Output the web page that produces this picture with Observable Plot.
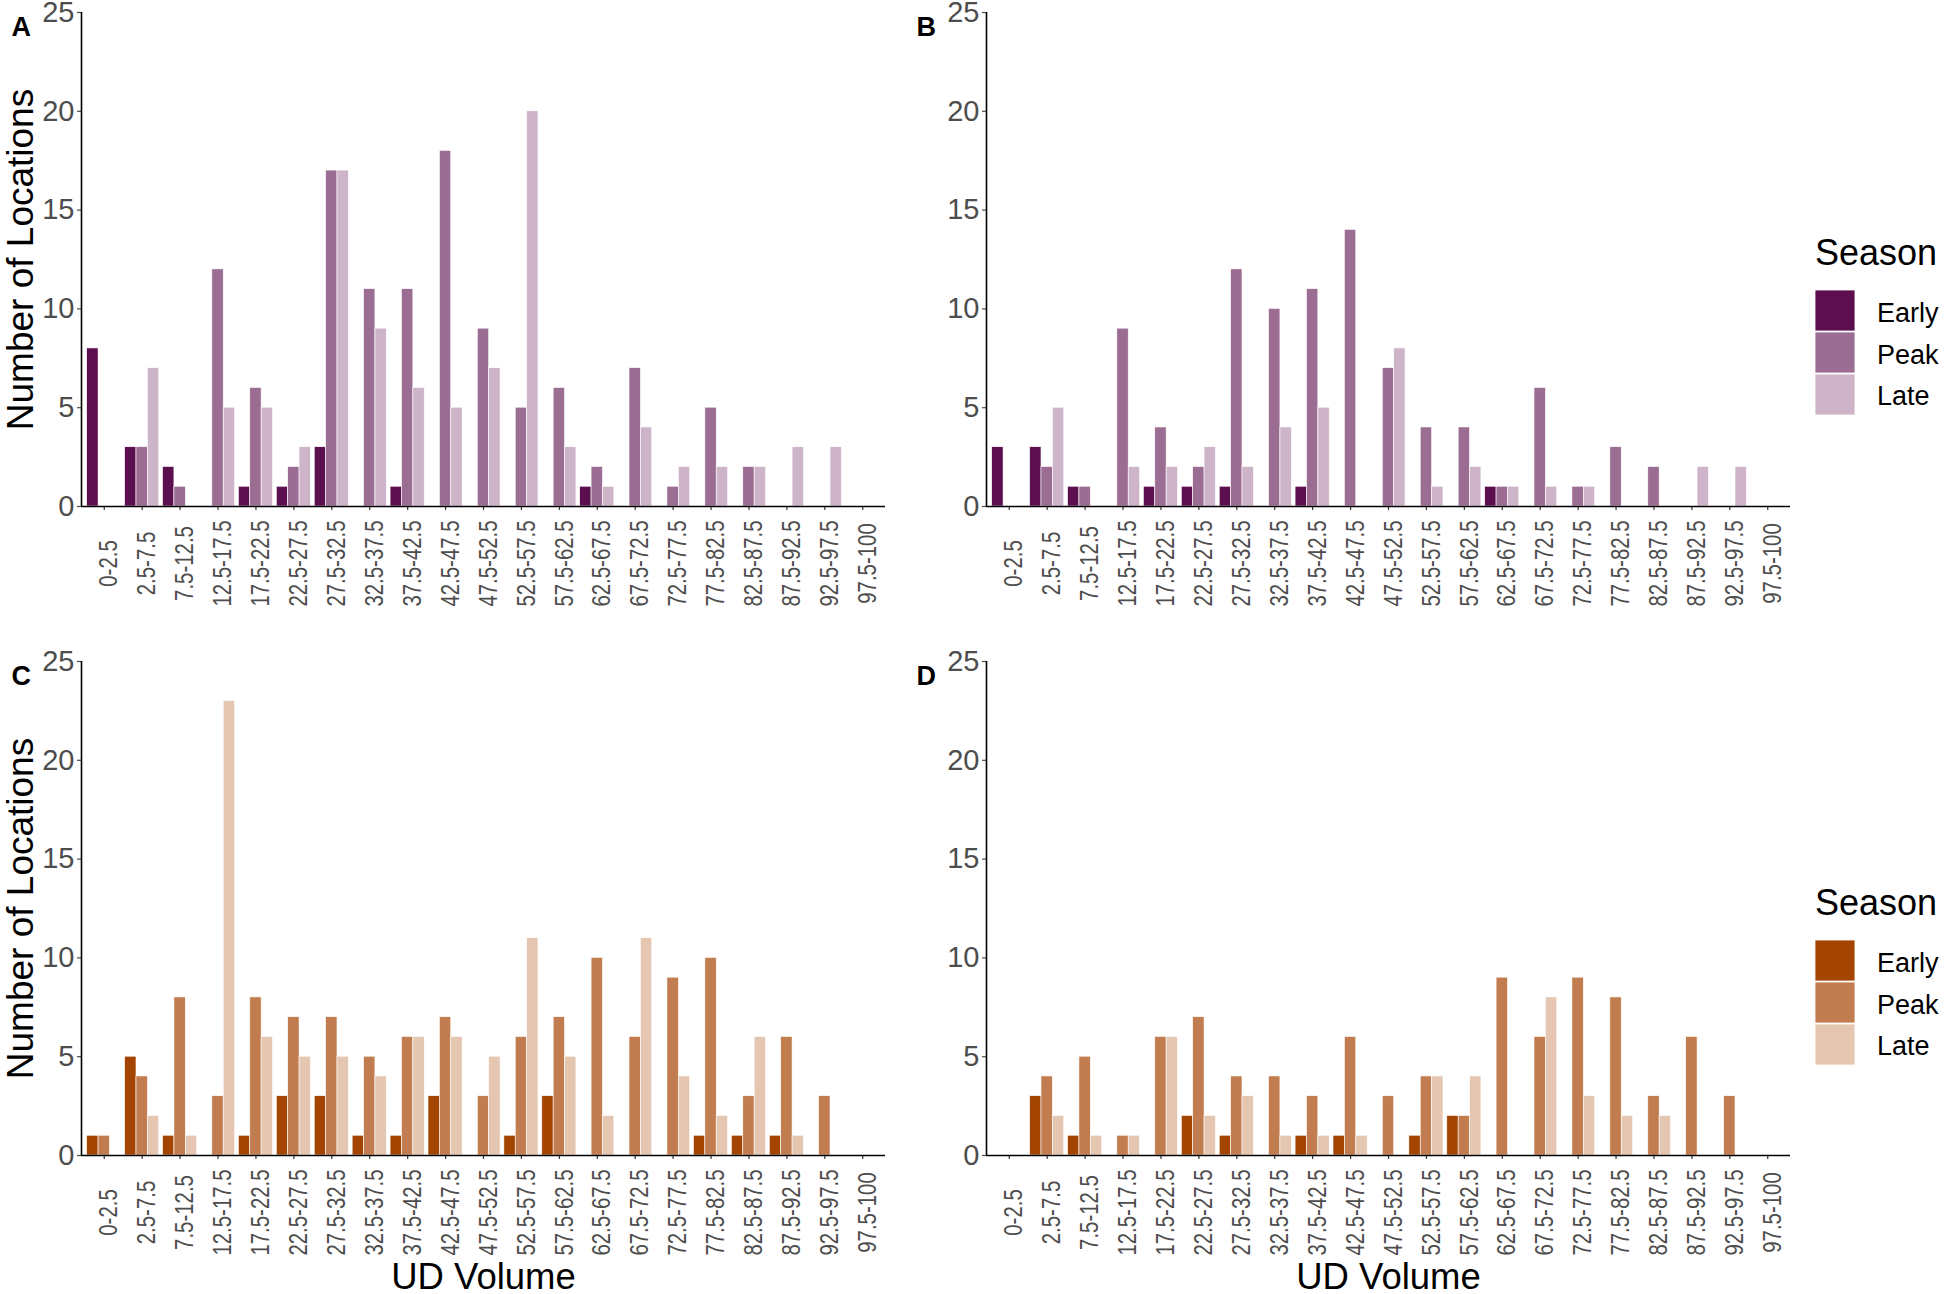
<!DOCTYPE html>
<html>
<head>
<meta charset="utf-8">
<script src="https://cdn.jsdelivr.net/npm/d3@7"></script>
<script src="https://cdn.jsdelivr.net/npm/@observablehq/plot@0.6"></script>
<style>
  html, body { margin: 0; padding: 0; background: #fff; }
  #root { position: relative; width: 1946px; height: 1294px; overflow: hidden; background: #fff;
          font-family: "Liberation Sans", Arial, sans-serif; }
  .panel { position: absolute; }
  .panel svg { overflow: visible; }
  .legend { position: absolute; }
</style>
</head>
<body>
<div id="root"></div>
<script>
// ---------------- data ----------------
const bins = ["0-2.5","2.5-7.5","7.5-12.5","12.5-17.5","17.5-22.5","22.5-27.5","27.5-32.5",
  "32.5-37.5","37.5-42.5","42.5-47.5","47.5-52.5","52.5-57.5","57.5-62.5","62.5-67.5",
  "67.5-72.5","72.5-77.5","77.5-82.5","82.5-87.5","87.5-92.5","92.5-97.5","97.5-100"];
const seasons = ["Early", "Peak", "Late"];
const yTicks = [0, 5, 10, 15, 20, 25];

const purpleColors = ["#5c0f4e", "#9c6d93", "#cdb4c9"];
const orangeColors = ["#a34500", "#c17d4f", "#e4c6b1"];

// Panel A
const earlyA = [8,3,2,0,1,1,3,0,1,0,0,0,0,1,0,0,0,0,0,0,0];
const peakA  = [0,3,1,12,6,2,17,11,11,18,9,5,6,2,7,1,5,2,0,0,0];
const lateA  = [0,7,0,5,5,3,17,9,6,5,7,20,3,1,4,2,2,2,3,3,0];
// Panel B
const earlyB = [3,3,1,0,1,1,1,0,1,0,0,0,0,1,0,0,0,0,0,0,0];
const peakB  = [0,2,1,9,4,2,12,10,11,14,7,4,4,1,6,1,3,2,0,0,0];
const lateB  = [0,5,0,2,2,3,2,4,5,0,8,1,2,1,1,1,0,0,2,2,0];
// Panel C
const earlyC = [1,5,1,0,1,3,3,1,1,3,0,1,3,0,0,0,1,1,1,0,0];
const peakC  = [1,4,8,3,8,7,7,5,6,7,3,6,7,10,6,9,10,3,6,3,0];
const lateC  = [0,2,1,23,6,5,5,4,6,6,5,11,5,2,11,4,2,6,1,0,0];
// Panel D
const earlyD = [0,3,1,0,0,2,1,0,1,1,0,1,2,0,0,0,0,0,0,0,0];
const peakD  = [0,4,5,1,6,7,4,4,3,6,3,4,2,9,6,9,8,3,6,3,0];
const lateD  = [0,2,1,1,6,2,3,1,1,1,0,4,4,0,8,3,2,2,0,0,0];

// ---------------- drawing ----------------
const root = document.getElementById("root");
const FONT = "'Liberation Sans', Arial, sans-serif";
const binSet = new Set(bins);
const expand = 0.6;       // discrete-axis expansion (category units)
const groupWidth = 0.9;   // dodge width
const barW = groupWidth / seasons.length;

function panel({letter, early, peak, late, colors, yTitle, xTitle, left, top}) {
  const vals = [early, peak, late];
  const rows = [];
  seasons.forEach((s, si) => vals[si].forEach((v, i) => {
    if (v > 0) rows.push({bin: bins[i], i, season: s, si, count: v});
  }));
  const idx = bins.map((_, i) => i);
  const xMin = -expand, xMax = bins.length - 1 + expand;

  const marks = [
    Plot.rect(rows, {
      x1: d => d.i - groupWidth / 2 + barW * d.si,
      x2: d => d.i - groupWidth / 2 + barW * (d.si + 1),
      y1: 0, y2: "count", fill: "season",
      stroke: "white", strokeWidth: 0.6
    }),
    Plot.axisY({ticks: yTicks, tickSize: 4, tickPadding: 3, fontSize: 29, color: "#4d4d4d",
                label: null, strokeWidth: 1.2}),
    Plot.axisX({ticks: idx, tickSize: 4, tickFormat: () => "", label: null, color: "#333",
                strokeWidth: 1.2}),
    Plot.ruleY([0], {stroke: "black", strokeWidth: 1.6}),
    Plot.ruleX([xMin], {stroke: "black", strokeWidth: 1.6}),
    Plot.text(bins, {x: (d, i) => i, text: d => d, frameAnchor: "bottom", rotate: -90,
                     dy: 57, dx: 5, textAnchor: "middle", lineAnchor: "middle",
                     fontSize: 25.5, fill: "#4d4d4d"}),
    Plot.text([letter], {frameAnchor: "top-left", dx: 11 - 81, dy: 23, textAnchor: "start",
                         lineAnchor: "bottom", fontWeight: "bold", fontSize: 27, fill: "black"})
  ];
  if (yTitle) marks.push(Plot.text([yTitle], {frameAnchor: "left", rotate: -90, dx: -49,
      textAnchor: "middle", lineAnchor: "bottom", fontSize: 37, fill: "black"}));
  if (xTitle) marks.push(Plot.text([xTitle], {frameAnchor: "bottom", dy: 133,
      textAnchor: "middle", lineAnchor: "bottom", fontSize: 36.5, fill: "black"}));

  const chart = Plot.plot({
    width: 900, height: 645,
    marginLeft: 81, marginRight: 15, marginTop: 12, marginBottom: 139,
    style: {fontFamily: FONT, background: "transparent", overflow: "visible"},
    x: {domain: [xMin, xMax], axis: null},
    y: {domain: [0, 25], axis: null},
    color: {domain: seasons, range: colors},
    marks
  });
  // condensed rotated tick labels (as in the reference)
  chart.querySelectorAll("text").forEach(t => {
    if (binSet.has(t.textContent)) {
      const tr = t.getAttribute("transform") || "";
      t.setAttribute("transform", tr + " scale(0.8,1)");
    }
  });
  const div = document.createElement("div");
  div.className = "panel";
  div.style.left = left + "px";
  div.style.top = top + "px";
  div.appendChild(chart);
  root.appendChild(div);
}

function legend(colors, top) {
  const svg = d3.create("svg").attr("width", 146).attr("height", 645)
    .style("font-family", FONT).style("overflow", "visible");
  svg.append("text").attr("x", 15).attr("y", 265).attr("font-size", 36)
    .attr("fill", "black").text("Season");
  const keyTops = [290, 332, 374];
  const baselines = [321.5, 363.5, 405];
  seasons.forEach((s, k) => {
    svg.append("rect").attr("x", 15).attr("y", keyTops[k]).attr("width", 40).attr("height", 41)
      .attr("fill", colors[k]).attr("stroke", "white").attr("stroke-width", 0.8);
    svg.append("text").attr("x", 77).attr("y", baselines[k]).attr("font-size", 27)
      .attr("fill", "black").text(s);
  });
  const div = document.createElement("div");
  div.className = "legend";
  div.style.left = "1800px";
  div.style.top = top + "px";
  div.appendChild(svg.node());
  root.appendChild(div);
}

panel({letter: "A", early: earlyA, peak: peakA, late: lateA, colors: purpleColors,
       yTitle: "Number of Locations", xTitle: null, left: 0, top: 0});
panel({letter: "B", early: earlyB, peak: peakB, late: lateB, colors: purpleColors,
       yTitle: null, xTitle: null, left: 905, top: 0});
panel({letter: "C", early: earlyC, peak: peakC, late: lateC, colors: orangeColors,
       yTitle: "Number of Locations", xTitle: "UD Volume", left: 0, top: 649});
panel({letter: "D", early: earlyD, peak: peakD, late: lateD, colors: orangeColors,
       yTitle: null, xTitle: "UD Volume", left: 905, top: 649});
legend(purpleColors, 0);
legend(orangeColors, 650);
</script>
</body>
</html>
